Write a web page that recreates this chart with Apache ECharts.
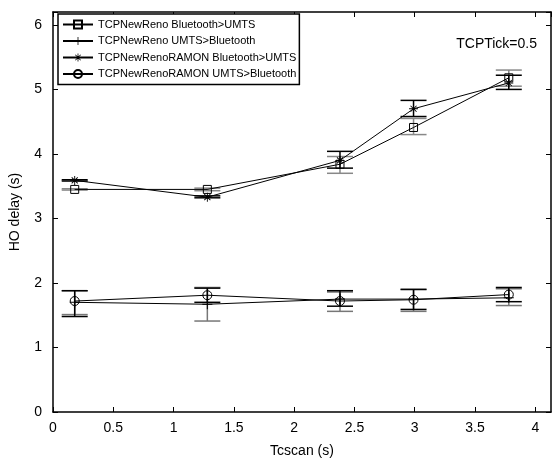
<!DOCTYPE html>
<html><head><meta charset="utf-8">
<script src="https://cdn.jsdelivr.net/npm/echarts@6/dist/echarts.min.js"></script>
<style>html,body{margin:0;padding:0;background:#fff}#c{width:557px;height:466px}</style>
</head><body><div id="c"></div>
<script>
const xs = [0.18, 1.28, 2.38, 2.99, 3.78];
const seriesNames = ['TCPNewReno Bluetooth>UMTS','TCPNewReno UMTS>Bluetooth','TCPNewRenoRAMON Bluetooth>UMTS','TCPNewRenoRAMON UMTS>Bluetooth'];
const renoBtUmts = [3.45, 3.45, 3.84, 4.41, 5.18];
const renoBtUmtsLo = [3.44, 3.43, 3.70, 4.30, 5.05];
const renoBtUmtsHi = [3.46, 3.47, 3.96, 4.55, 5.30];
const renoUmtsBt = [1.70, 1.67, 1.75, 1.75, 1.77];
const renoUmtsBtLo = [1.51, 1.41, 1.56, 1.56, 1.65];
const renoUmtsBtHi = [1.88, 1.93, 1.86, 1.90, 1.91];
const ramonBtUmts = [3.59, 3.33, 3.90, 4.70, 5.10];
const ramonBtUmtsLo = [3.58, 3.32, 3.78, 4.58, 5.00];
const ramonBtUmtsHi = [3.60, 3.35, 4.04, 4.83, 5.22];
const ramonUmtsBt = [1.72, 1.81, 1.72, 1.74, 1.82];
const ramonUmtsBtLo = [1.48, 1.70, 1.64, 1.59, 1.71];
const ramonUmtsBtHi = [1.88, 1.92, 1.88, 1.90, 1.93];
const xTicks = [0, 0.5, 1, 1.5, 2, 2.5, 3, 3.5, 4];
const yTicks = [0, 1, 2, 3, 4, 5, 6];

const plusPath = 'path://M4.5,0H5.5V4.5H10V5.5H5.5V10H4.5V5.5H0V4.5H4.5Z';
const starPath = 'path://M4.5,0H5.5V4.5H10V5.5H5.5V10H4.5V5.5H0V4.5H4.5Z M1.3,2L2,1.3L8.7,8L8,8.7Z M8,1.3L8.7,2L2,8.7L1.3,8Z';

function pairs(v){ return xs.map((x,i)=>[x,v[i]]); }
function errData(lo,hi){ return xs.map((x,i)=>[x,lo[i],hi[i]]); }
function errSeries(lo,hi,color){
  return {
    type:'custom', data: errData(lo,hi), silent:true, z:1,
    encode:{x:0,y:[1,2]},
    renderItem:function(params, api){
      const x = api.value(0);
      const p1 = api.coord([x, api.value(1)]);
      const p2 = api.coord([x, api.value(2)]);
      const w = 13;
      const st = {stroke:color, lineWidth:1.5, fill:null};
      return {type:'group', children:[
        {type:'line', shape:{x1:p1[0],y1:p1[1],x2:p2[0],y2:p2[1]}, style:st},
        {type:'line', shape:{x1:p1[0]-w,y1:p1[1],x2:p1[0]+w,y2:p1[1]}, style:st},
        {type:'line', shape:{x1:p2[0]-w,y1:p2[1],x2:p2[0]+w,y2:p2[1]}, style:st}
      ]};
    }
  };
}
function lineSeries(name, vals, symbol, size, color, hollow){
  return {
    name:name, type:'line', data:pairs(vals), symbol:symbol, symbolSize:size, z:3,
    showAllSymbol:true,
    lineStyle:{color:color, width:1},
    itemStyle: hollow ? {color:'rgba(0,0,0,0)', borderColor:'#000', borderWidth:1} : {color:'#000', borderWidth:0},
    emphasis:{disabled:true}, animation:false
  };
}
const font = 'Liberation Sans, Arial, Helvetica, sans-serif';
const chart = echarts.init(document.getElementById('c'));
chart.setOption({
  animation:false,
  backgroundColor:'#fff',
  grid:{left:51, right:6, top:12, bottom:54},
  legend:{
    orient:'vertical', left:58, top:14, itemGap:5.5, itemWidth:30, itemHeight:10,
    padding:[5,3,5,4], borderColor:'#000', borderWidth:1.5, backgroundColor:'#fff',
    textStyle:{fontFamily:font, fontSize:11, color:'#000'},
    data:seriesNames
  },
  graphic:[{type:'text', right:20, top:37, style:{text:'TCPTick=0.5', fontFamily:font, fontSize:14, fill:'#000'}}],
  xAxis:[{
    type:'value', min:0, max:4.13, interval:0.5,
    name:'Tcscan (s)', nameLocation:'middle', nameGap:32,
    nameTextStyle:{fontFamily:font, fontSize:14, color:'#000'},
    axisLine:{show:true, onZero:false, lineStyle:{color:'#000', width:1.5}},
    axisTick:{show:true, inside:true, length:5, lineStyle:{color:'#000'}},
    axisLabel:{fontFamily:font, fontSize:14, color:'#000', margin:9, showMaxLabel:false,
      formatter:function(v){ return xTicks.indexOf(v)>=0 ? String(v) : ''; }},
    splitLine:{show:false}
  },{
    type:'value', position:'top', min:0, max:4.13, interval:0.5,
    axisLine:{show:true, onZero:false, lineStyle:{color:'#000', width:1.5}},
    axisTick:{show:true, inside:true, length:5, lineStyle:{color:'#000'}},
    axisLabel:{show:false}, splitLine:{show:false}
  }],
  yAxis:[{
    type:'value', min:0, max:6.2, interval:1,
    name:'HO delay (s)', nameLocation:'middle', nameGap:31,
    nameTextStyle:{fontFamily:font, fontSize:14, color:'#000'},
    axisLine:{show:true, onZero:false, lineStyle:{color:'#000', width:1.5}},
    axisTick:{show:true, inside:true, length:5, lineStyle:{color:'#000'}},
    axisLabel:{fontFamily:font, fontSize:14, color:'#000', margin:11,
      formatter:function(v){ return yTicks.indexOf(v)>=0 ? String(v) : ''; }},
    splitLine:{show:false}
  },{
    type:'value', position:'right', min:0, max:6.2, interval:1,
    axisLine:{show:true, onZero:false, lineStyle:{color:'#000', width:1.5}},
    axisTick:{show:true, inside:true, length:5, lineStyle:{color:'#000'}},
    axisLabel:{show:false}, splitLine:{show:false}
  }],
  series:[
    errSeries(renoBtUmtsLo, renoBtUmtsHi, '#888'),
    errSeries(ramonBtUmtsLo, ramonBtUmtsHi, '#000'),
    errSeries(renoUmtsBtLo, renoUmtsBtHi, '#777'),
    errSeries(ramonUmtsBtLo, ramonUmtsBtHi, '#000'),
    lineSeries(seriesNames[0], renoBtUmts, 'rect', 8, '#000', true),
    lineSeries(seriesNames[1], renoUmtsBt, plusPath, 10, '#000', false),
    lineSeries(seriesNames[2], ramonBtUmts, starPath, 9, '#000', false),
    lineSeries(seriesNames[3], ramonUmtsBt, 'circle', 9, '#000', true)
  ]
});
</script></body></html>
